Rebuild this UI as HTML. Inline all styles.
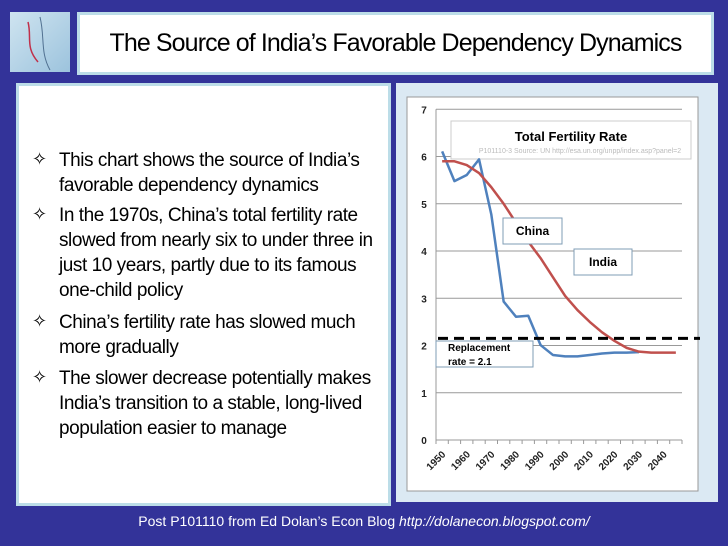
<!DOCTYPE html>
<html><head><meta charset="utf-8"><style>
html,body{margin:0;padding:0}
body{width:728px;height:546px;background:#333399;position:relative;overflow:hidden;font-family:"Liberation Sans",Arial,sans-serif}
.abs{position:absolute}
#title-box{left:77px;top:12px;width:631px;height:57px;background:#fff;border:3px solid #bcdde8;display:flex;align-items:center;justify-content:center;font-size:25px;color:#000;letter-spacing:-0.9px}
#icon{left:10px;top:12px;width:60px;height:60px;background:linear-gradient(135deg,#cfe4f0,#9cc3dd);}
#left-panel{left:16px;top:83px;width:369px;height:417px;background:#fff;border:3px solid #bcdde8}
#right-panel{left:396px;top:83px;width:322px;height:419px;background:#dbe9f3}
.b{position:absolute;left:40px;font-size:19px;line-height:25px;color:#000;letter-spacing:-0.45px}
.b span.s{position:absolute;left:-8px;font-size:18px;top:-1px}
.b div{padding-left:19px}
#footer{left:0;width:728px;top:513px;text-align:center;color:#fff;font-size:14px}
</style></head><body>
<div class="abs" id="icon">
<svg width="60" height="60"><path d="M18 10 C22 25 15 35 28 50" stroke="#c0304a" stroke-width="1.5" fill="none"/><path d="M30 5 C35 25 30 40 40 58" stroke="#507090" fill="none"/></svg></div>
<div class="abs" id="title-box">The Source of India’s Favorable Dependency Dynamics</div>
<div class="abs" id="left-panel"></div>
<div class="abs b" style="top:148px"><span class="s">✧</span><div>This chart shows the source of India’s<br>favorable dependency dynamics</div></div>
<div class="abs b" style="top:203px"><span class="s">✧</span><div>In the 1970s, China’s total fertility rate<br>slowed from nearly six to under three in<br>just 10 years, partly due to its famous<br>one-child policy</div></div>
<div class="abs b" style="top:310px"><span class="s">✧</span><div>China’s fertility rate has slowed much<br>more gradually</div></div>
<div class="abs b" style="top:366px"><span class="s">✧</span><div>The slower decrease potentially makes<br>India’s transition to a stable, long-lived<br>population easier to manage</div></div>
<div class="abs" id="right-panel"></div>
<svg class="abs" style="left:0;top:0" width="728" height="546" id="chart"></svg>
<div class="abs" id="footer">Post P101110 from Ed Dolan’s Econ Blog <i>http://dolanecon.blogspot.com/</i></div>
<script>
const years=[1950,1955,1960,1965,1970,1975,1980,1985,1990,1995,2000,2005,2010,2015,2020,2025,2030,2035,2040,2045];
const tickYears=[1950,1960,1970,1980,1990,2000,2010,2020,2030,2040];
const yTicks=[0,1,2,3,4,5,6,7];
const china=[6.11,5.48,5.61,5.94,4.77,2.93,2.61,2.63,2.01,1.80,1.77,1.77,1.80,1.83,1.85,1.85,1.86];
const india=[5.9,5.9,5.82,5.65,5.35,5.0,4.6,4.2,3.85,3.45,3.05,2.75,2.5,2.28,2.1,1.95,1.87,1.85,1.85,1.85];
const replacement=2.15;
const NS='http://www.w3.org/2000/svg';
const svg=document.getElementById('chart');
const X0=436,X1=682,Y0=440,YT=109.3;
const step=(X1-X0)/years.length;
function xi(i){return X0+step*(i+0.5);}
function xy(yr){return X0+step*((yr-1950)/5);}
function y(v){return Y0-(Y0-YT)*v/7;}
function el(t,a,txt){const e=document.createElementNS(NS,t);for(const k in a)e.setAttribute(k,a[k]);if(txt!==undefined)e.textContent=txt;svg.appendChild(e);return e;}
const bg=el('rect',{x:407,y:97,width:291,height:394,fill:'#fff',stroke:'#999','stroke-width':1});


yTicks.forEach(v=>{
 if(v>0){const g=el('line',{x1:X0,x2:X1,y1:y(v),y2:y(v),stroke:'#999','stroke-width':1});
 
 }
 const t=el('text',{x:424,y:y(v)+4,'font-size':10,'font-weight':'bold','text-anchor':'middle',fill:'#222'},v);
 
 
});
el('line',{x1:X0,x2:X0,y1:YT,y2:Y0,stroke:'#999'});
el('line',{x1:X0,x2:X1,y1:Y0,y2:Y0,stroke:'#999'});
for(let i=0;i<=years.length;i++){el('line',{x1:X0+step*i,x2:X0+step*i,y1:Y0,y2:Y0+4,stroke:'#999'});}
tickYears.forEach(yr=>{
 const x=xy(yr)+step*0.5;
 const t=el('text',{x:x+4,y:455,'font-size':10,'font-weight':'bold','text-anchor':'end',fill:'#222',transform:`rotate(-45 ${x+4} 455)`},yr);
 
 
});
const tb=el('rect',{x:451,y:121,width:240,height:38,fill:'#fff',stroke:'#ccc'});
const tt=el('text',{x:571,y:141,'font-size':13,'font-weight':'bold','text-anchor':'middle'},'Total Fertility Rate');


const st=el('text',{x:580,y:153,'font-size':7,'text-anchor':'middle',fill:'#bbb'},'P101110-3 Source: UN http://esa.un.org/unpp/index.asp?panel=2');


function line(data,color,name){const p=el('polyline',{points:data.map((v,i)=>xi(i)+','+y(v)).join(' '),fill:'none',stroke:color,'stroke-width':2.5,'stroke-linejoin':'round'});
 
 }
line(china,'#4f81bd','china-line');
line(india,'#c0504d','india-line');
const d=el('line',{x1:438,x2:700,y1:y(replacement),y2:y(replacement),stroke:'#000','stroke-width':3,'stroke-dasharray':'10,6'});


function label(x,yy,w,h,txt,name,fs){el('rect',{x:x,y:yy,width:w,height:h,fill:'#fff',stroke:'#7f9cb5'});
 const t=el('text',{x:x+w/2,y:yy+h/2+4,'font-size':fs,'font-weight':'bold','text-anchor':'middle'},txt);
 
 }
label(503,218,59,26,'China','china-label',12);
label(574,249,58,26,'India','india-label',12);
el('rect',{x:436,y:341,width:97,height:26,fill:'#fff',stroke:'#7f9cb5'});
const r1=el('text',{x:448,y:351,'font-size':10,'font-weight':'bold'},'Replacement');


el('text',{x:448,y:365,'font-size':10,'font-weight':'bold'},'rate = 2.1');
</script>
</body></html>
